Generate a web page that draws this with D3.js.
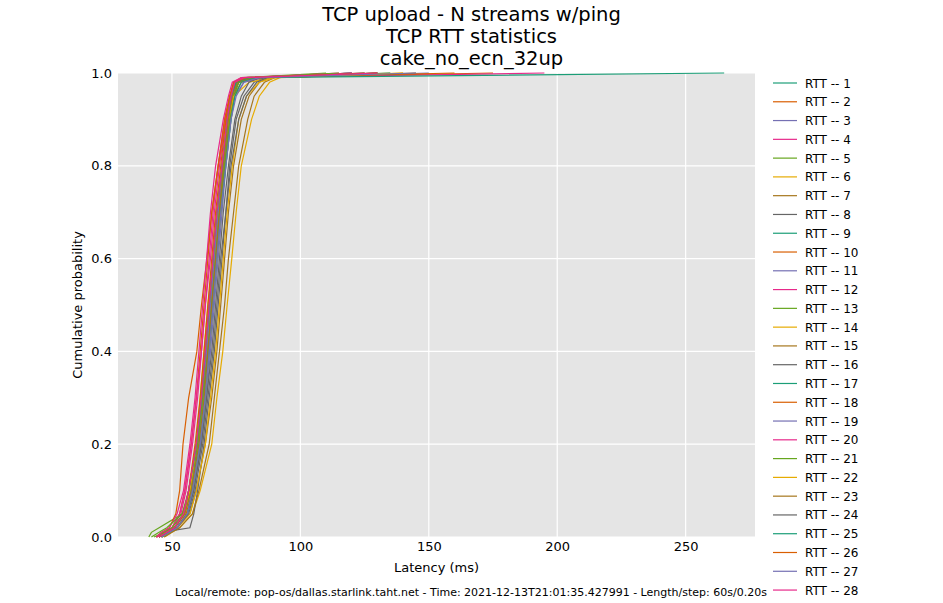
<!DOCTYPE html>
<html>
<head>
<meta charset="utf-8">
<script src="https://cdn.jsdelivr.net/npm/d3@7"></script>
<style>
  body { margin: 0; background: #fff; }
  text { font-family: "DejaVu Sans", sans-serif; }
</style>
</head>
<body>
<div id="chart"></div>
<script>
// Titles and text
const titleLines = ["TCP upload - N streams w/ping", "TCP RTT statistics", "cake_no_ecn_32up"];
const footer = "Local/remote: pop-os/dallas.starlink.taht.net - Time: 2021-12-13T21:01:35.427991 - Length/step: 60s/0.20s";
const xTicks = [50, 100, 150, 200, 250];
const yTicks = [0.0, 0.2, 0.4, 0.6, 0.8, 1.0];
const palette = ["#1b9e77", "#d95f02", "#7570b3", "#e7298a", "#66a61e", "#e6ab02", "#a6761d", "#666666"];

// cumulative probability levels shared by every series
const probs = [0, 0.01, 0.02, 0.05, 0.1, 0.2, 0.3, 0.4, 0.5, 0.6, 0.7, 0.8, 0.9, 0.95, 0.98, 0.99, 1.0];

// latency (ms) read at each probability level, one row per RTT series
const rtt1  = [45, 48, 51, 55, 57, 60, 62, 64, 65.5, 67, 68.5, 70, 72, 73.5, 75, 80, 120];
const rtt2  = [44, 47, 50, 53, 55, 57.5, 59.5, 61, 62.5, 64, 65.5, 68, 71, 73, 76, 82, 175];
const rtt3  = [46, 49, 52, 56, 58.5, 61.5, 63.5, 65, 66.5, 68, 69.5, 71, 73, 74.5, 78, 86, 150];
const rtt4  = [44, 47, 50, 53.5, 55.5, 58, 60, 61.5, 63, 64.5, 66, 68, 70.5, 72.5, 74, 78, 195];
const rtt5  = [41, 42, 45, 54, 57, 60, 62, 63.5, 65, 66.5, 68, 70, 72, 73.5, 75, 79, 110];
const rtt6  = [47, 50, 53, 58, 61, 65.5, 67.5, 69.8, 71.5, 73.3, 75, 77, 81, 84, 88, 92, 140];
const rtt7  = [46, 49, 52, 57, 59.5, 63, 65.5, 67.5, 69, 70.5, 72, 74, 77, 80, 84, 88, 130];
const rtt8  = [44, 46, 57, 58.5, 60, 62.5, 64.5, 66.5, 68, 69.5, 71, 72.5, 75, 78, 82, 86, 120];
const rtt9  = [45, 48, 51, 55, 57.5, 60.5, 62.5, 64, 65.5, 67, 68.5, 70.5, 72.5, 74, 76, 82, 130];
const rtt10 = [46, 49, 52, 55.5, 58, 61, 63, 64.5, 66, 67.5, 69, 70.5, 72.5, 74, 77, 85, 160];
const rtt11 = [45, 48, 51, 55, 57, 60, 62, 63.5, 65, 66.5, 68, 70, 72, 73.5, 75, 80, 125];
const rtt12 = [44, 47, 50, 53, 55, 57.5, 59.5, 61.5, 63, 65, 66.5, 68.5, 71, 73, 74.5, 79, 115];
const rtt13 = [43, 47, 50, 54.5, 57, 60, 62, 64, 65.5, 67, 68.5, 70.5, 72.5, 74, 76, 81, 120];
const rtt14 = [45, 48, 51, 55, 57, 59.5, 61, 62.5, 64, 66, 67.5, 69.5, 72, 74, 80, 89, 135];
const rtt15 = [47, 50, 53, 58, 60.5, 64.5, 66.5, 68.5, 70.5, 72, 74, 76, 79.5, 82, 86, 90, 145];
const rtt16 = [45, 49, 52, 56, 58.5, 61.5, 63.5, 65.5, 67, 68.5, 70, 72, 74.5, 77, 80, 84, 125];
const rtt17 = [46, 49, 52, 56, 58, 61, 63, 64.5, 66, 67.5, 69, 71, 73, 74.5, 77, 83, 135];
const rtt18 = [44, 46, 49, 51.5, 53, 54.3, 56.5, 59.7, 61.5, 63.6, 65.5, 68, 70.5, 72.5, 74, 77, 125];
const rtt19 = [45, 48, 51, 54.5, 56.5, 59.5, 61.5, 63, 64.5, 66, 67.5, 69.5, 71.5, 73, 75, 80, 120];
const rtt20 = [44, 46, 49, 52, 54.5, 57, 59, 60.5, 62, 63.5, 65, 67, 70, 72, 73.5, 77, 120];
const rtt21 = [42, 45, 48, 54, 56.5, 59.5, 61.5, 63, 64.5, 66, 67.5, 69.5, 71.5, 73, 75, 79, 115];
const rtt22 = [46, 49, 52, 57, 59.5, 63, 65, 67, 68.5, 70, 71.5, 73.5, 76, 79, 84, 90, 140];
const rtt23 = [45, 48, 51, 55, 57.5, 60.5, 62.5, 64, 65.5, 67, 68.5, 70, 72, 73.5, 75.5, 81, 130];
const rtt24 = [46, 49, 52, 56.5, 59, 62, 64, 66, 67.5, 69, 71, 73, 76, 79, 83, 87, 130];
const rtt25 = [45, 48, 51, 54.5, 56.5, 59.5, 61.5, 63, 64.5, 66, 67.5, 69.5, 71.5, 73, 75, 80, 265];
const rtt26 = [45, 48, 51, 54.5, 56.5, 59, 61, 62.5, 64, 65.5, 67, 69, 71, 72.5, 74.5, 79, 130];
const rtt27 = [46, 49, 52, 56, 58, 61, 63, 64.5, 66, 67.5, 69, 71, 73, 75, 78, 84, 145];
const rtt28 = [45, 48, 51, 54.5, 56.5, 59.5, 61.5, 63, 64.5, 66, 67.5, 69.5, 71.5, 73, 74.5, 78, 130];

const seriesValues = [rtt1, rtt2, rtt3, rtt4, rtt5, rtt6, rtt7, rtt8, rtt9, rtt10, rtt11, rtt12, rtt13, rtt14,
  rtt15, rtt16, rtt17, rtt18, rtt19, rtt20, rtt21, rtt22, rtt23, rtt24, rtt25, rtt26, rtt27, rtt28];
const seriesNames = seriesValues.map((d, i) => "RTT -- " + (i + 1));

const W = 943, H = 603;
const margin = {left: 118, right: 188, top: 73, bottom: 66};

const svg = d3.select("#chart").append("svg")
  .attr("width", W)
  .attr("height", H);

const x = d3.scaleLinear().domain([29, 277]).range([margin.left, W - margin.right]);
const y = d3.scaleLinear().domain([0, 1]).range([H - margin.bottom, margin.top]);

// plot background
svg.append("rect")
  .attr("x", margin.left)
  .attr("y", margin.top)
  .attr("width", W - margin.right - margin.left)
  .attr("height", H - margin.bottom - margin.top)
  .attr("fill", "#e5e5e5");

// grid
svg.append("g").selectAll("line.vx")
  .data(xTicks).enter().append("line")
  .attr("x1", d => x(d)).attr("x2", d => x(d))
  .attr("y1", margin.top).attr("y2", H - margin.bottom)
  .attr("stroke", "#fff").attr("stroke-width", 1.2);
svg.append("g").selectAll("line.hy")
  .data(yTicks).enter().append("line")
  .attr("x1", margin.left).attr("x2", W - margin.right)
  .attr("y1", d => y(d)).attr("y2", d => y(d))
  .attr("stroke", "#fff").attr("stroke-width", 1.2);

// axes (no tick marks, just labels)
const xAxis = svg.append("g")
  .attr("transform", `translate(0,${H - margin.bottom})`)
  .call(d3.axisBottom(x).tickValues(xTicks).tickSize(0).tickPadding(5));
const yAxis = svg.append("g")
  .attr("transform", `translate(${margin.left},0)`)
  .call(d3.axisLeft(y).tickValues(yTicks).tickFormat(d3.format(".1f")).tickSize(0).tickPadding(6));
[xAxis, yAxis].forEach(a => {
  a.select(".domain").remove();
  a.selectAll("text")
    .attr("font-family", "DejaVu Sans, sans-serif")
    .attr("font-size", 13)
    .attr("fill", "#000");
});

// series lines
const line = d3.line()
  .x(d => x(d[0]))
  .y(d => y(d[1]));

svg.append("g").selectAll("path")
  .data(seriesValues).enter().append("path")
  .attr("d", vals => line(vals.map((v, i) => [v, probs[i]])))
  .attr("fill", "none")
  .attr("stroke", (d, i) => palette[i % palette.length])
  .attr("stroke-width", 1.2);

// titles
svg.append("g").selectAll("text")
  .data(titleLines).enter().append("text")
  .attr("x", W / 2)
  .attr("y", (d, i) => 21 + i * 22)
  .attr("text-anchor", "middle")
  .attr("font-size", 19.5)
  .text(d => d);

// axis labels
svg.append("text")
  .attr("x", (margin.left + W - margin.right) / 2)
  .attr("y", 572)
  .attr("text-anchor", "middle")
  .attr("font-size", 13)
  .text("Latency (ms)");

svg.append("text")
  .attr("transform", `translate(82,${(margin.top + H - margin.bottom) / 2}) rotate(-90)`)
  .attr("text-anchor", "middle")
  .attr("font-size", 13)
  .text("Cumulative probability");

// footer
svg.append("text")
  .attr("x", 471)
  .attr("y", 596)
  .attr("text-anchor", "middle")
  .attr("font-size", 11)
  .text(footer);

// legend
const legend = svg.append("g").selectAll("g")
  .data(seriesNames).enter().append("g")
  .attr("transform", (d, i) => `translate(773,${83 + i * 18.78})`);
legend.append("line")
  .attr("x1", 0).attr("x2", 24)
  .attr("stroke", (d, i) => palette[i % palette.length])
  .attr("stroke-width", 1.2);
legend.append("text")
  .attr("x", 32)
  .attr("y", 4.5)
  .attr("font-size", 12)
  .text(d => d);
</script>
</body>
</html>
